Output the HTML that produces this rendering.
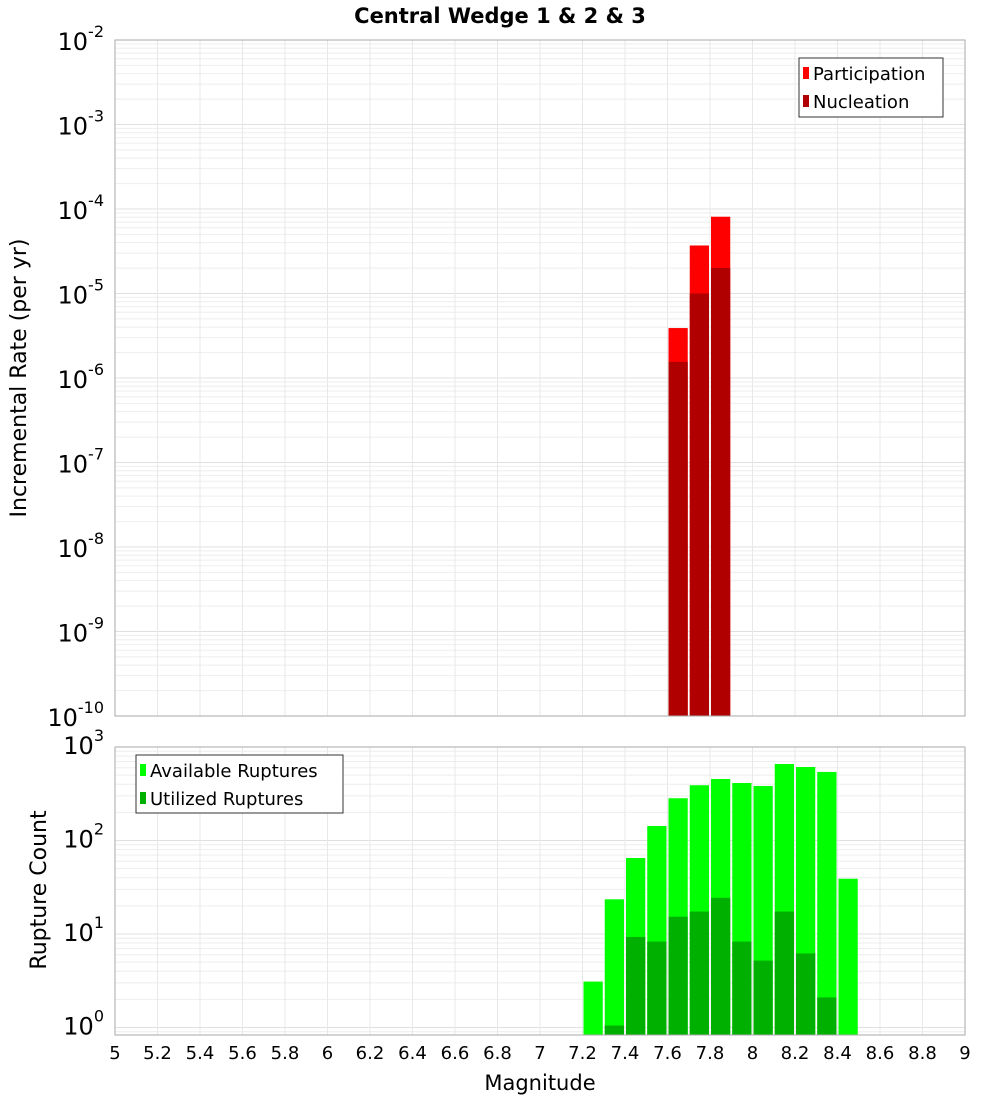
<!DOCTYPE html>
<html><head><meta charset="utf-8"><style>
body{margin:0;background:#fff;}
svg{font-family:"DejaVu Sans","Liberation Sans",sans-serif;}
</style></head><body>
<svg id="c" width="1000" height="1100" xmlns="http://www.w3.org/2000/svg">
<text x="500" y="23" text-anchor="middle" font-size="21" font-weight="bold">Central Wedge 1 &amp; 2 &amp; 3</text>
<text transform="translate(26,378) rotate(-90)" text-anchor="middle" font-size="22">Incremental Rate (per yr)</text>
<text transform="translate(46,890) rotate(-90)" text-anchor="middle" font-size="22">Rupture Count</text>
<text x="540" y="1090" text-anchor="middle" font-size="21">Magnitude</text>
<g id="top"></g><g id="bot"></g><g id="xt"></g>
<g>
<rect x="799" y="58" width="144" height="59" fill="#fff" stroke="#333"/>
<rect x="803" y="67" width="6" height="12" fill="#ff0000"/>
<text x="813" y="80" font-size="18">Participation</text>
<rect x="803" y="95" width="6" height="12" fill="#b00000"/>
<text x="813" y="108" font-size="18">Nucleation</text>
</g>
<g>
<rect x="136" y="755" width="207" height="58" fill="#fff" stroke="#333"/>
<rect x="140" y="764" width="6" height="12" fill="#00ff00"/>
<text x="150" y="777" font-size="18">Available Ruptures</text>
<rect x="140" y="792" width="6" height="12" fill="#00b000"/>
<text x="150" y="805" font-size="18">Utilized Ruptures</text>
</g>
</svg>
<script>
const topMags=[7.65,7.75,7.85];
const participation=[3.9e-6,3.7e-5,8.1e-5];
const nucleation=[1.55e-6,1.0e-5,2.0e-5];
const botMags=[7.25,7.35,7.45,7.55,7.65,7.75,7.85,7.95,8.05,8.15,8.25,8.35,8.45];
const available=[3.1,23.5,65,143,283,390,455,412,383,658,611,541,39];
const utilized=[0,1.05,9.3,8.3,15.3,17.4,24.4,8.3,5.2,17.4,6.2,2.1,0];
const xTicks=["5","5.2","5.4","5.6","5.8","6","6.2","6.4","6.6","6.8","7","7.2","7.4","7.6","7.8","8","8.2","8.4","8.6","8.8","9"];
const topExps=[-2,-3,-4,-5,-6,-7,-8,-9,-10];
const botExps=[3,2,1,0];
const NS="http://www.w3.org/2000/svg";
const X0=115,X1=965;
const xs=m=>X0+(m-5)/4*(X1-X0);
const yTop=v=>40+(-2-Math.log10(v))*84.5;
const yBot=v=>747+(3-Math.log10(v))*93.5;
function mk(p,t,a){const e=document.createElementNS(NS,t);for(const k in a)e.setAttribute(k,a[k]);p.appendChild(e);return e;}
function panel(g,y0,y1,ys,dmin,dmax,name){
  mk(g,'rect',{x:X0,y:y0,width:X1-X0,height:y1-y0,fill:'#fff'});
  for(let d=dmin;d<=dmax;d++)for(let k=1;k<10;k++){const v=k*Math.pow(10,d);const y=ys(v);if(y<y0-0.5||y>y1+0.5)continue;
    const l=mk(g,'line',{x1:X0,x2:X1,y1:y,y2:y,stroke:k==1?'#e0e0e0':'#eeeeee','stroke-width':1});
    
    }
  for(let i=0;i<xTicks.length;i++){const x=xs(+xTicks[i]);const l=mk(g,'line',{x1:x,x2:x,y1:y0,y2:y1,stroke:'#e8e8e8'});
    
    }
}
const gt=document.getElementById('top'),gb=document.getElementById('bot'),gx=document.getElementById('xt');
panel(gt,40,716,yTop,-10,-3,'top');
panel(gb,747,1035,yBot,-1,2,'bottom');
const bw=(X1-X0)/40;
function bar(g,m,v,ys,ybase,col,name){const x=xs(m)-bw/2+1;const y=Math.max(ys(v),0);
  const r=mk(g,'rect',{x:x,y:y,width:bw-2,height:ybase-y,fill:col});
  
  }
topMags.forEach((m,i)=>{bar(gt,m,participation[i],yTop,716,'#ff0000','participation-bar');bar(gt,m,nucleation[i],yTop,716,'#b00000','nucleation-bar');});
botMags.forEach((m,i)=>{bar(gb,m,available[i],yBot,1035,'#00ff00','available-bar');if(utilized[i]>0)bar(gb,m,utilized[i],yBot,1035,'#00b000','utilized-bar');});
mk(gt,'rect',{x:X0,y:40,width:X1-X0,height:676,fill:'none',stroke:'#aaa'});
mk(gb,'rect',{x:X0,y:747,width:X1-X0,height:288,fill:'none',stroke:'#aaa'});
function ylab(g,e,y,name){const t=mk(g,'text',{x:104,y:y+9,'text-anchor':'end','font-size':24});
  
  
  t.textContent='10';const s=mk(t,'tspan',{dy:-13,'font-size':16});s.textContent=String(e);}
topExps.forEach(e=>{ylab(gt,e,yTop(Math.pow(10,e))+1,'top-y-tick-label');});
botExps.forEach(e=>{ylab(gb,e,yBot(Math.pow(10,e))-2,'bottom-y-tick-label');});
xTicks.forEach(t=>{const e=mk(gx,'text',{x:xs(+t),y:1059,'text-anchor':'middle','font-size':18});
  
  
  e.textContent=t;});
</script>
</body></html>
